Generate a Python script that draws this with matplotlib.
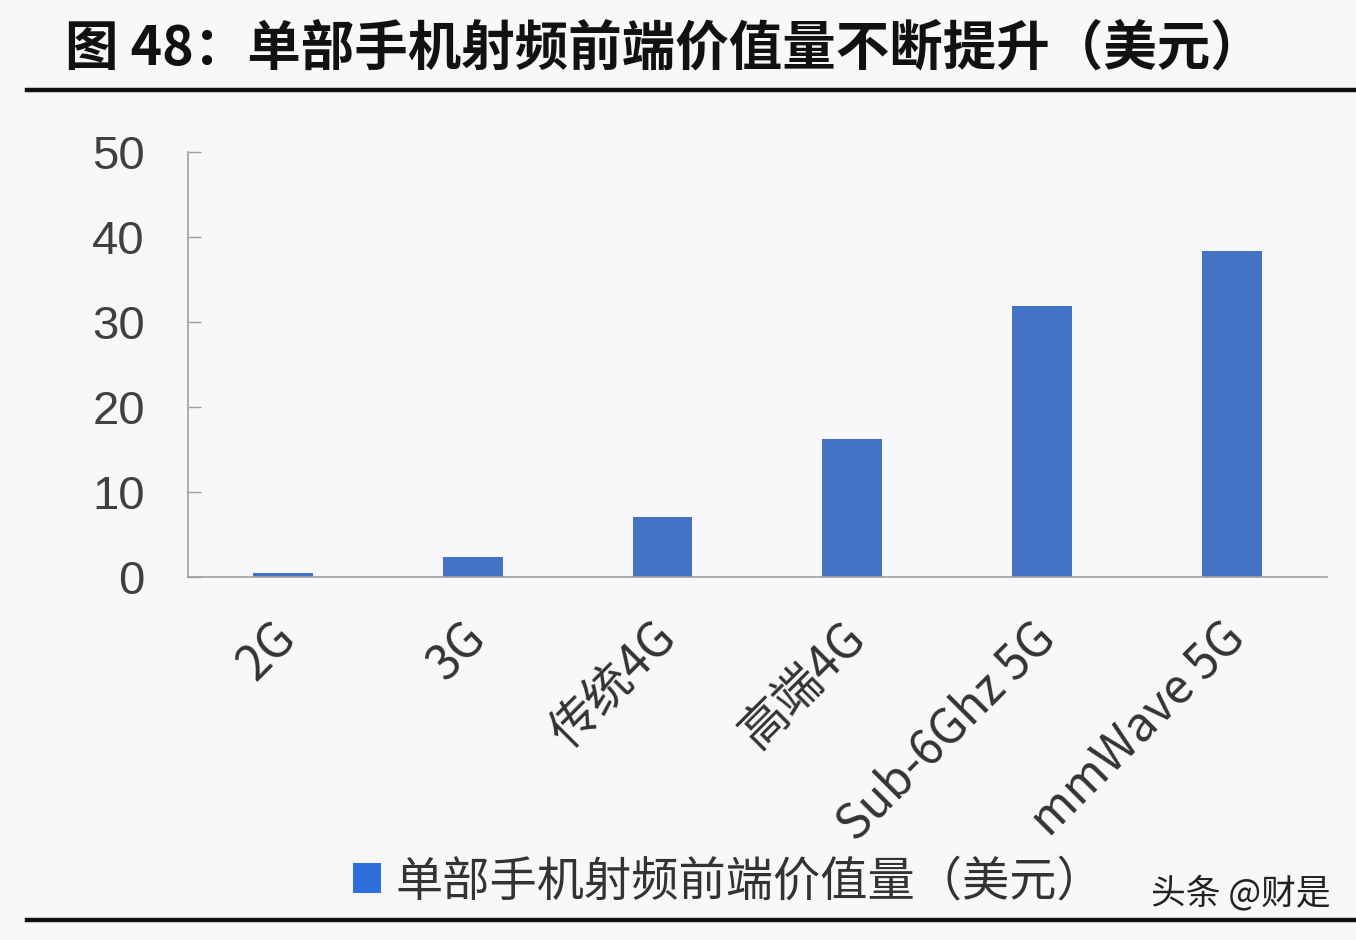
import matplotlib

matplotlib.use("Agg")
import matplotlib.pyplot as plt
import matplotlib.transforms as mtransforms
from matplotlib.lines import Line2D
from matplotlib.patches import Patch

plt.rcParams["font.family"] = ["Noto Sans CJK SC", "DejaVu Sans"]

categories = ["2G", "3G", "传统4G", "高端4G", "Sub-6Ghz 5G", "mmWave 5G"]
values = [0.5, 2.4, 7.1, 16.2, 31.9, 38.4]
y_ticks = [0, 10, 20, 30, 40, 50]
title = "图 48：单部手机射频前端价值量不断提升（美元）"
legend_label = "单部手机射频前端价值量（美元）"
watermark = "头条 @财是"

BAR_COLOR = "#4472c4"
BG = "#f8f8fa"

fig = plt.figure(figsize=(13.56, 9.40), dpi=100, facecolor=BG)
ax = fig.add_axes([0.1386, 0.3862, 0.84, 0.452], facecolor=BG)

x = list(range(len(categories)))
ax.bar(x, values, width=0.315, color=BAR_COLOR, label=legend_label, zorder=2)

ax.set_xlim(-0.5, len(categories) - 0.5)
ax.set_ylim(0, 50)
ax.set_yticks(y_ticks)
ax.set_yticklabels([str(t) for t in y_ticks], fontsize=34, color="#404040",
                   family=["Liberation Sans", "DejaVu Sans"])
ax.tick_params(axis="y", direction="in", length=9, width=1, color="#a0a0a0", pad=31)
ax.set_xticks(x)
ax.set_xticklabels(categories, rotation=45, ha="right", va="top",
                   rotation_mode="anchor", fontsize=34.5, color="#333333")
ax.tick_params(axis="x", length=0, pad=26)
# 斜排标签整体稍微左移
shift = mtransforms.ScaledTranslation(-0.12, 0, fig.dpi_scale_trans)
for lbl in ax.get_xticklabels():
    lbl.set_transform(lbl.get_transform() + shift)

for side in ["top", "right"]:
    ax.spines[side].set_visible(False)
ax.spines["left"].set_color("#a0a0a0")
ax.spines["bottom"].set_color("#a0a0a0")
ax.spines["left"].set_linewidth(1.2)
ax.spines["bottom"].set_linewidth(1.2)

# 标题和上下两条粗横线
fig.text(0.048, 0.948, title, fontsize=38.5, fontweight="bold", color="#111111",
         ha="left", va="center")
fig.add_artist(Line2D([0.02, 1.0], [0.904, 0.904], color="#111111", linewidth=3.2))
fig.add_artist(Line2D([0.02, 1.0], [0.021, 0.021], color="#111111", linewidth=3.2))

handle = Patch(facecolor="#2f6fdb", edgecolor="none")
fig.legend([handle], [legend_label], loc="center left", bbox_to_anchor=(0.229, 0.062),
           frameon=False, fontsize=34, handlelength=0.6, handleheight=0.6,
           handletextpad=0.3, labelcolor="#333333")

fig.text(0.981, 0.049, watermark, fontsize=25, color="#222222", ha="right", va="center")

fig.savefig("out.png", dpi=100, facecolor=BG)
